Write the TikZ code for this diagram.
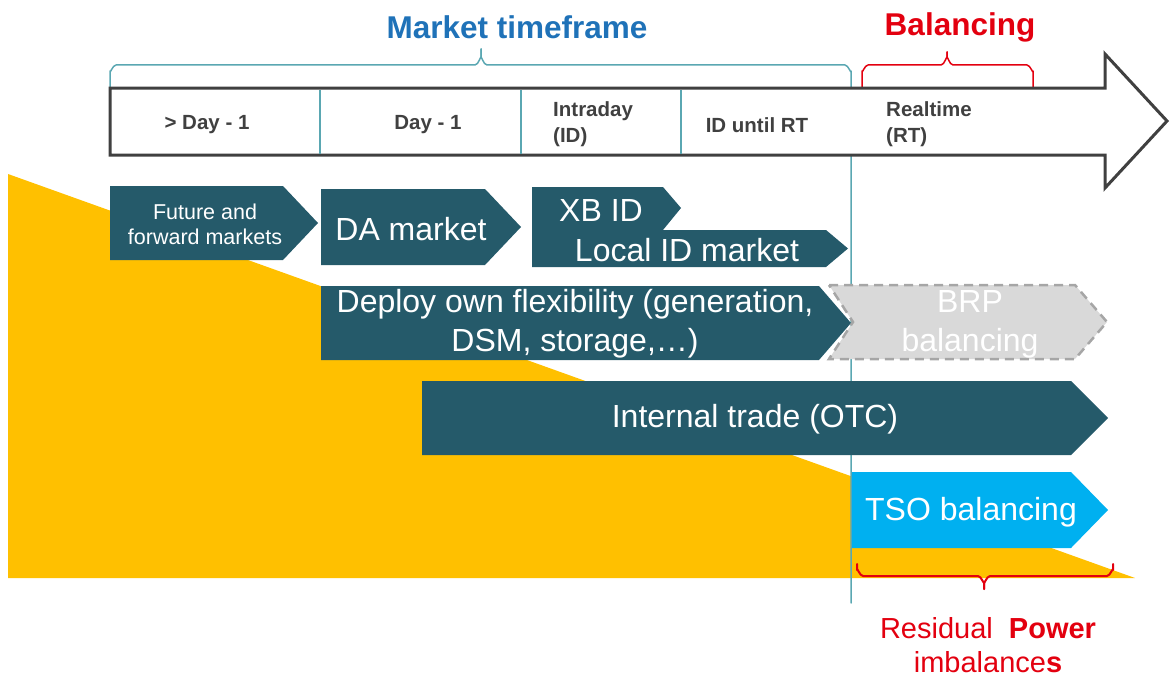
\documentclass[tikz,border=0pt]{standalone}
\usepackage{fontspec}
\setmainfont{Liberation Sans}
\definecolor{boxteal}{HTML}{255A6A}
\definecolor{yel}{HTML}{FFC000}
\definecolor{tso}{HTML}{00B0F0}
\definecolor{brpfill}{HTML}{D9D9D9}
\definecolor{brpline}{HTML}{A6A6A6}
\definecolor{tealline}{HTML}{5AA7B2}
\definecolor{arrowgray}{HTML}{404040}
\definecolor{mktblue}{HTML}{1F72B8}
\definecolor{balred}{HTML}{E3000F}
\definecolor{labgray}{HTML}{404040}
\tikzset{
  darkbox/.style={fill=boxteal, draw=none},
  boxtxt/.style={text=white, font=\fontsize{32}{39}\selectfont, align=center, inner sep=0pt},
  smalltxt/.style={text=white, font=\fontsize{21.5}{25}\selectfont, align=center, inner sep=0pt},
  timelab/.style={text=labgray, font=\bfseries\fontsize{20.5}{26}\selectfont, inner sep=0pt},
  headtxt/.style={font=\bfseries\fontsize{31.5}{36}\selectfont, inner sep=0pt},
  bracestyle/.style={line width=1.5pt, line cap=round, line join=round},
}
\begin{document}
\begin{tikzpicture}[x=1pt,y=-1pt]
\useasboundingbox (0,0) rectangle (1172,677);
% yellow triangle
\fill[yel] (8,174) -- (1135,578) -- (8,578) -- cycle;
% vertical teal line + market brace
\draw[tealline, bracestyle] (110,87) -- (110,71) to[out=-90,in=180] (116,65) -- (475,65)
   to[out=0,in=90] (481,58) -- (481,49);
\draw[tealline, bracestyle] (481,49) -- (481,58) to[out=90,in=180] (487,65) -- (845,65)
   to[out=0,in=-90] (851,71) -- (851,603);
% balancing brace
\draw[balred, bracestyle] (862,87) -- (862,71) to[out=-90,in=180] (868,65) -- (941,65)
   to[out=0,in=90] (947,58) -- (947,52);
\draw[balred, bracestyle] (947,52) -- (947,58) to[out=90,in=180] (953,65) -- (1027,65)
   to[out=0,in=-90] (1033,71) -- (1033,87);
% timeline arrow
\draw[arrowgray, line width=3pt, fill=white, line join=miter]
  (110,88) -- (1105,88) -- (1105,54) -- (1167,121) -- (1105,188) -- (1105,155) -- (110,155) -- cycle;
\foreach \xx in {320,521,681} \draw[tealline, line width=1.2pt] (\xx,89.5) -- (\xx,153.5);
% headings
\node[headtxt, text=mktblue] (mkt) at (517,27) {Market timeframe};
\node[headtxt, text=balred] (bal) at (960,27) {Balancing};
% timeline labels
\node[timelab] (d1) at (207,125) {> Day - 1};
\node[timelab] (d0) at (428,125) {Day - 1};
\node[timelab, anchor=west, align=left] (idl) at (553,124) {Intraday\\(ID)};
\node[timelab] (idrt) at (757,125) {ID until RT};
\node[timelab, anchor=west, align=left] (rt) at (886,124) {Realtime\\(RT)};
% boxes
\fill[darkbox] (110,186) -- (283,186) -- (318,223) -- (283,260) -- (110,260) -- cycle;
\node[smalltxt] (fut) at (205,224) {Future and\\forward markets};
\fill[darkbox] (321,189) -- (485,189) -- (521,227) -- (485,265) -- (321,265) -- cycle;
\node[boxtxt] (da) at (411,229) {DA market};
\fill[darkbox] (532,187) -- (663,187) -- (681,208) -- (663,230) -- (532,230) -- cycle;
\fill[darkbox] (532,230) -- (826,230) -- (848,248.5) -- (826,267) -- (532,267) -- cycle;
\node[boxtxt] (xb) at (601,210) {XB ID};
\node[boxtxt] (lid) at (687,250) {Local ID market};
\fill[darkbox] (321,286) -- (819,286) -- (851,323) -- (819,360) -- (321,360) -- cycle;
\node[boxtxt] (dep) at (575,324) {Deploy own flexibility (generation,\\DSM, storage,\dots)};
\draw[brpline, fill=brpfill, line width=2.5pt, dash pattern=on 9pt off 6pt]
  (829,285) -- (1075,285) -- (1107,322) -- (1075,359) -- (829,359) -- (853,322) -- cycle;
\node[boxtxt] (brp) at (970,324) {BRP\\balancing};
\fill[darkbox] (422,381) -- (1071,381) -- (1108,418) -- (1071,455) -- (422,455) -- cycle;
\node[boxtxt] (otc) at (755,419) {Internal trade (OTC)};
\fill[tso] (852,472) -- (1071,472) -- (1108,510) -- (1071,548) -- (852,548) -- cycle;
\node[boxtxt] (tsob) at (971,512) {TSO balancing};
% residual brace
\draw[balred, bracestyle, line width=2pt] (857,564) -- (857,570) to[out=90,in=180] (863,576) -- (978,576)
   to[out=0,in=-90] (984,582) -- (984,589);
\draw[balred, bracestyle, line width=2pt] (984,589) -- (984,582) to[out=-90,in=180] (990,576) -- (1107,576)
   to[out=0,in=90] (1113,570) -- (1113,564);
\node[text=balred, font=\fontsize{29}{34}\selectfont, align=center, inner sep=0pt] (res) at (988,645)
  {Residual\ \ \textbf{Power}\\imbalance\textbf{s}};
\end{tikzpicture}
\end{document}
